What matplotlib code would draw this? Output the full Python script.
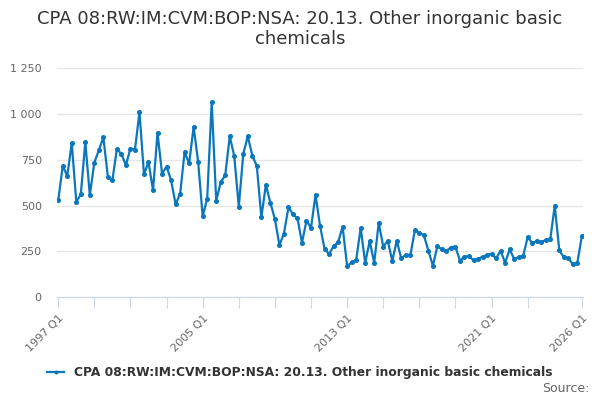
import numpy as np
import matplotlib.pyplot as plt
from matplotlib.ticker import FuncFormatter

# quarterly values, 1997 Q1 .. 2026 Q1
years = list(range(1997, 2027))
quarters = [f"{y} Q{q}" for y in years for q in range(1, 5)][:117]
values = [
    528, 717, 662, 842, 520, 561, 848, 557, 735, 802, 873, 657,
    639, 810, 781, 721, 812, 806, 1011, 671, 737, 584, 898, 675,
    713, 639, 508, 563, 793, 730, 930, 739, 442, 537, 1066, 526,
    628, 666, 879, 770, 493, 784, 879, 773, 715, 435, 613, 515,
    426, 284, 346, 490, 453, 430, 297, 417, 378, 559, 389, 264,
    235, 278, 300, 384, 169, 189, 202, 378, 187, 306, 187, 406,
    275, 307, 198, 307, 211, 231, 227, 364, 351, 338, 253, 171,
    278, 260, 253, 270, 275, 198, 220, 224, 200, 209, 220, 230,
    235, 211, 253, 187, 260, 209, 217, 224, 327, 296, 305, 300,
    312, 315, 500, 255, 217, 211, 180, 187, 333,
]
series_name = "CPA 08:RW:IM:CVM:BOP:NSA: 20.13. Other inorganic basic chemicals"
tick_pos = list(range(0, 105, 8)) + [116]
label_pos = [0, 32, 64, 96, 116]

fig = plt.figure(figsize=(6, 4), dpi=100)
ax = fig.add_axes([0.095, 0.2575, 0.877, 0.5715])

x = np.arange(len(values))
ax.plot(x, values, color="#0a77bd", lw=1.6, marker="o", ms=2.6, label=series_name)

ax.set_ylim(0, 1250)
ax.set_xlim(-0.27, 116.3)
ax.set_yticks([0, 250, 500, 750, 1000, 1250])
ax.yaxis.set_major_formatter(FuncFormatter(lambda v, p: f"{int(v):,}".replace(",", " ")))
ax.grid(axis="y", color="#e6e6e6", lw=1)
ax.set_axisbelow(True)

ax.set_xticks(tick_pos)
ax.set_xticklabels([quarters[i] if i in label_pos else "" for i in tick_pos],
                   rotation=45, ha="right", rotation_mode="anchor")
for s in ["top", "right", "left"]:
    ax.spines[s].set_visible(False)
ax.spines["bottom"].set_color("#ccd6eb")
ax.tick_params(axis="x", colors="#ccd6eb", length=8, labelcolor="#666666", labelsize=8)
ax.tick_params(axis="y", length=0, labelcolor="#666666", labelsize=8, pad=11)

fig.suptitle("CPA 08:RW:IM:CVM:BOP:NSA: 20.13. Other inorganic basic\nchemicals",
             y=0.975, fontsize=13, color="#333333", linespacing=1.15)

fig.legend(loc="center", bbox_to_anchor=(0.5, 0.068), frameon=False,
           prop={"weight": "bold", "size": 8.8}, labelcolor="#333333",
           handlelength=1.4, markerscale=0.7)
fig.text(0.983, 0.02, "Source:", ha="right", fontsize=9, color="#666666")

fig.savefig("out.png")
